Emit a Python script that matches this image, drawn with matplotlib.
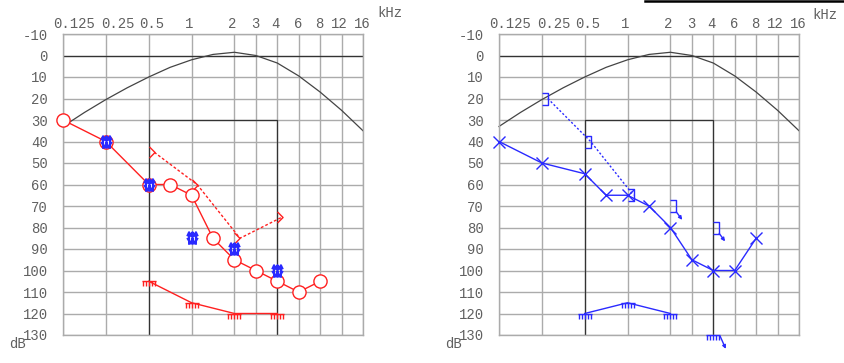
import math
import matplotlib
matplotlib.use("Agg")
import matplotlib.pyplot as plt
from matplotlib.path import Path
from matplotlib.lines import Line2D
from matplotlib.transforms import offset_copy, ScaledTranslation

plt.rcParams["axes.unicode_minus"] = False

# audiogram frequencies (kHz) and tick labels
tick_freqs = [0.125, 0.25, 0.5, 1, 2, 3, 4, 6, 8, 12, 16]
tick_labels = ["0.125", "0.25", "0.5", "1", "2", "3", "4", "6", "8", "12", "16"]
db_ticks = list(range(-10, 131, 10))

# reference curve (black)
curve_freqs = [0.125, 0.1875, 0.25, 0.375, 0.5, 0.75, 1, 1.5, 2, 3, 4, 6, 8, 12, 16]
curve_db = [33, 26.5, 20.5, 15, 10, 5.5, 2, -0.5, -1.5, 0, 3.5, 9.5, 17, 25.5, 35]

# right ear (red, left panel)
ac_r_freqs = [0.125, 0.25, 0.5, 0.75, 1, 1.5, 2, 3, 4, 6, 8]
ac_r_db = [30, 40, 60, 60, 65, 85, 95, 100, 105, 110, 105]
bc_r_freqs = [0.5, 1, 2, 4]
bc_r_db = [45, 60, 85, 75]
mask_r_freqs = [0.25, 0.5, 1, 2, 4]
mask_r_db = [40, 60, 85, 90, 100]
ucl_r_freqs = [0.5, 1, 2, 4]
ucl_r_db = [105, 115, 120, 120]

# left ear (blue, right panel)
ac_l_freqs = [0.125, 0.25, 0.5, 0.75, 1, 1.5, 2, 3, 4, 6, 8]
ac_l_db = [40, 50, 55, 65, 65, 70, 80, 95, 100, 100, 85]
bc_l_freqs = [0.25, 0.5, 1]
bc_l_db = [20, 40, 65]
bc_l_nr_freqs = [2, 4]
bc_l_nr_db = [70, 80]
ucl_l_freqs = [0.5, 1, 2]
ucl_l_db = [120, 115, 120]
ucl_l_nr_freqs = [4]
ucl_l_nr_db = [130]

RED = "#ff2020"
BLUE = "#2a2aff"
GRID = "#ababab"
TXT = "#606060"
FONT = "Liberation Mono"


def fpos(f):
    # octave position, in-between frequencies sit half way
    n = math.log2(f / 0.125)
    if abs(n - round(n)) < 1e-6:
        return round(n)
    return math.floor(n) + 0.5


def pos(freqs):
    return [fpos(f) for f in freqs]


# custom markers
gt_marker = Path([(0, 1), (1, 0), (0, -1)])
bracket_marker = Path([(0, 1), (1, 1), (1, -1), (0, -1)])
comb_verts = [(-1, 0), (1, 0)]
comb_codes = [Path.MOVETO, Path.LINETO]
for cx in (-0.9, -0.45, 0, 0.45, 0.9):
    comb_verts += [(cx, 0), (cx, -0.7)]
    comb_codes += [Path.MOVETO, Path.LINETO]
comb_marker = Path(comb_verts, comb_codes)
mask_verts, mask_codes = [], []
for mx in (-0.55, 0, 0.55):
    mask_verts += [(mx, -1), (mx, 1), (mx - 0.3, 0.35), (mx, 1), (mx + 0.3, 0.35)]
    mask_codes += [Path.MOVETO, Path.LINETO, Path.MOVETO, Path.LINETO, Path.LINETO]
mask_verts += [(-0.85, 0.1), (-0.3, -0.8), (0, 0.0), (0.3, -0.8), (0.85, 0.1)]
mask_codes += [Path.MOVETO, Path.LINETO, Path.LINETO, Path.LINETO, Path.LINETO]
mask_marker = Path(mask_verts, mask_codes)

fig = plt.figure(figsize=(8.45, 3.63), dpi=100)


def setup_axes(left_px):
    ax = fig.add_axes([left_px / 845, 1 - 335 / 363, 300 / 845, 301 / 363])
    ax.set_xlim(0, 7)
    ax.set_ylim(130, -10)
    ax.set_xticks(pos(tick_freqs))
    ax.set_xticklabels(tick_labels)
    ax.set_yticks(db_ticks)
    ax.xaxis.tick_top()
    ax.tick_params(length=0, labelsize=10, labelcolor=TXT)
    ax.tick_params(axis="x", pad=2)
    ax.tick_params(axis="y", pad=11)
    for lab in ax.get_xticklabels() + ax.get_yticklabels():
        lab.set_fontfamily(FONT)
    shifts = [11, 12, 3, -2, -2, -1, -2, -1, -1, -2, -1]
    for lab, dx in zip(ax.get_xticklabels(), shifts):
        lab.set_transform(lab.get_transform() + ScaledTranslation(dx / 100, 0, fig.dpi_scale_trans))
    ax.grid(True, color=GRID, lw=1.0)
    ax.set_axisbelow(True)
    for s in ax.spines.values():
        s.set_color(GRID)
        s.set_linewidth(1.0)
    # reference lines
    ax.axhline(0, color="#333333", lw=0.9)
    ax.plot([fpos(0.5), fpos(0.5), fpos(4), fpos(4)], [130, 30, 30, 130], color="#333333", lw=0.9)
    ax.plot(pos(curve_freqs), curve_db, color="#444444", lw=0.9, clip_on=False)
    return ax


def nr_arrow(ax, f, db, start, end, color):
    ax.annotate("", xy=(fpos(f), db),
                xycoords=offset_copy(ax.transData, fig=fig, x=end[0], y=end[1], units="points"),
                xytext=(fpos(f), db),
                textcoords=offset_copy(ax.transData, fig=fig, x=start[0], y=start[1], units="points"),
                arrowprops=dict(arrowstyle="-|>", color=color, lw=1.0, mutation_scale=5,
                                shrinkA=0, shrinkB=0),
                annotation_clip=False)


# left panel, right ear
ax1 = setup_axes(63)
ax1.plot(pos(ac_r_freqs), ac_r_db, color=RED, lw=1.0, marker="o", ms=9.5,
         mfc="white", mec=RED, mew=1.0, clip_on=False, zorder=4)
ax1.plot(pos(bc_r_freqs), bc_r_db, color=RED, lw=1.0, ls=(0, (2, 1.5)),
         transform=offset_copy(ax1.transData, fig=fig, x=4, y=0, units="points"), zorder=3)
ax1.plot(pos(bc_r_freqs), bc_r_db, ls="none", marker=gt_marker, ms=8, mfc="none",
         mec=RED, mew=1.0, zorder=3)
ax1.plot(pos(ucl_r_freqs), ucl_r_db, color=RED, lw=1.0, marker=comb_marker, ms=10,
         mfc="none", mec=RED, mew=1.0, zorder=3)
ax1.plot(pos(mask_r_freqs), mask_r_db, ls="none", marker=mask_marker, ms=9,
         mfc="none", mec=BLUE, mew=1.5, zorder=5, clip_on=False)

# right panel, left ear
ax2 = setup_axes(499)
ax2.plot(pos(ac_l_freqs), ac_l_db, color=BLUE, lw=1.0, marker="x", ms=9,
         mec=BLUE, mew=1.0, clip_on=False, zorder=4)
ax2.plot(pos(bc_l_freqs), bc_l_db, color=BLUE, lw=1.0, ls=(0, (1.5, 1.5)),
         transform=offset_copy(ax2.transData, fig=fig, x=4.25, y=0, units="points"), zorder=3)
ax2.plot(pos(bc_l_freqs + bc_l_nr_freqs), bc_l_db + bc_l_nr_db, ls="none",
         marker=bracket_marker, ms=8.5, mfc="none", mec=BLUE, mew=1.0, zorder=3)
for f, d in zip(bc_l_nr_freqs, bc_l_nr_db):
    nr_arrow(ax2, f, d, (4.25, -4.25), (8.5, -10), BLUE)
ax2.plot(pos(ucl_l_freqs), ucl_l_db, color=BLUE, lw=1.0, marker=comb_marker, ms=10,
         mfc="none", mec=BLUE, mew=1.0, zorder=3)
ax2.plot(pos(ucl_l_nr_freqs), ucl_l_nr_db, ls="none", marker=comb_marker, ms=10,
         mfc="none", mec=BLUE, mew=1.0, zorder=3, clip_on=False)
for f, d in zip(ucl_l_nr_freqs, ucl_l_nr_db):
    nr_arrow(ax2, f, d, (5, -1), (9, -10), BLUE)

# axis unit labels
for x_px, y_px in [(377, 13), (812, 15)]:
    fig.text(x_px / 845, 1 - y_px / 363, "kHz", family=FONT, fontsize=10, color=TXT,
             ha="left", va="center")
for x_px in (9, 445):
    fig.text(x_px / 845, 1 - 344 / 363, "dB", family=FONT, fontsize=10, color=TXT,
             ha="left", va="center")

fig.add_artist(Line2D([645 / 845, 1], [1 - 1 / 363, 1 - 1 / 363], transform=fig.transFigure,
                      color="black", lw=1.8))

fig.savefig("out.png", dpi=100)
